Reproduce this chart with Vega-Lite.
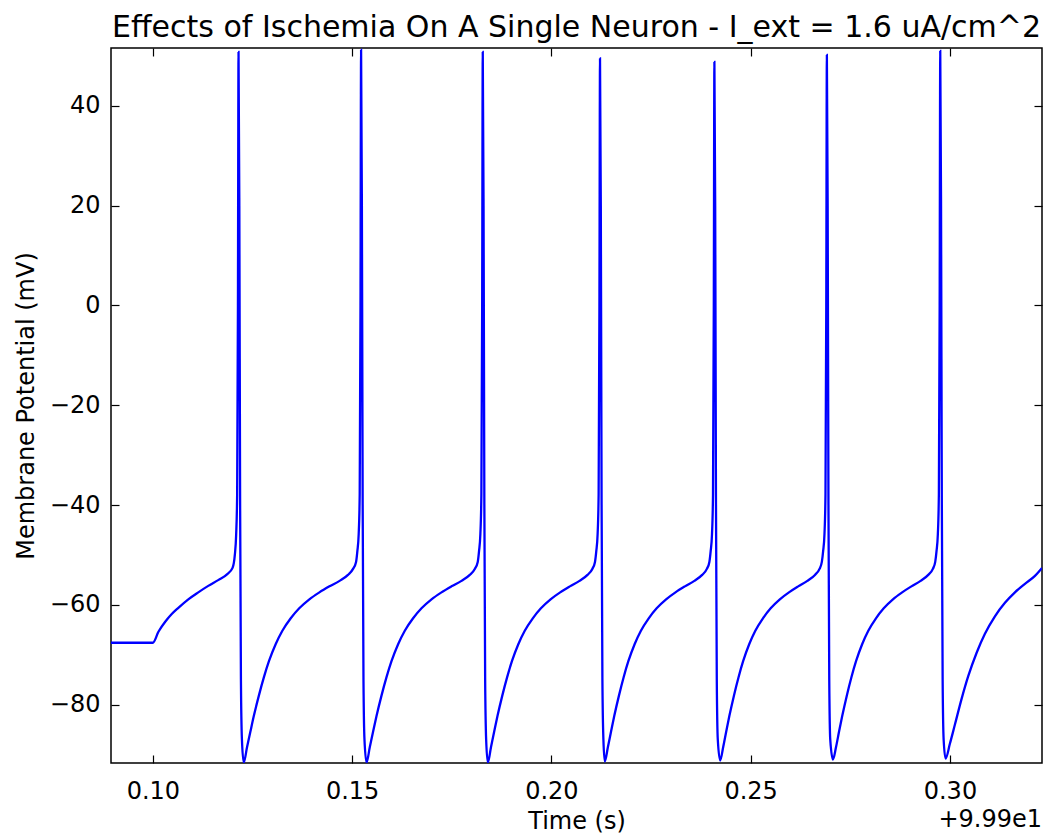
{
  "$schema": "https://vega.github.io/schema/vega-lite/v6.json",
  "width": 931,
  "height": 715,
  "autosize": {"type": "none"},
  "padding": {"left": 111, "top": 48, "right": 7, "bottom": 70},
  "background": "white",
  "title": {"text": "Effects of Ischemia On A Single Neuron - I_ext = 1.6 uA/cm^2", "font": "DejaVu Sans", "fontSize": 30, "fontWeight": "normal", "color": "#000", "anchor": "middle", "frame": "group", "baseline": "alphabetic", "offset": 11, "dy": 31},
  "config": {
    "view": {"stroke": "#000", "strokeWidth": 1.5},
    "axis": {"domain": false, "grid": false, "tickColor": "#000", "tickSize": -8, "tickWidth": 1.2, "labelFont": "DejaVu Sans", "labelFontSize": 24, "labelColor": "#000", "titleFont": "DejaVu Sans", "titleFontSize": 24, "titleFontWeight": "normal", "titleColor": "#000"}
  },
  "resolve": {"axis": {"x": "independent", "y": "independent"}},
  "layer": [
    {
      "data": {"values": [
        {"t":0.0895,"v":-67.6},{"t":0.1000,"v":-67.6},{"t":0.1014,"v":-65.4},{"t":0.1031,"v":-63.4},{"t":0.1048,"v":-61.8},{"t":0.1064,"v":-60.6},{"t":0.1089,"v":-58.9},{"t":0.1114,"v":-57.5},{"t":0.1139,"v":-56.2},{"t":0.1165,"v":-55.0},{"t":0.1186,"v":-53.9},{"t":0.1200,"v":-52.6},{"t":0.12057,"v":-50.0},{"t":0.12090,"v":-46.0},{"t":0.12115,"v":-38},{"t":0.12135,"v":0},{"t":0.12150,"v":50.8},
        {"t":0.12170,"v":20},{"t":0.12190,"v":-40},{"t":0.12210,"v":-75},{"t":0.12235,"v":-87},{"t":0.12280,"v":-91.6},
        {"t":0.12364,"v":-88.5},{"t":0.12448,"v":-85.4},{"t":0.12533,"v":-82.3},{"t":0.12660,"v":-78.2},{"t":0.12787,"v":-74.5},{"t":0.12913,"v":-71.3},{"t":0.13081,"v":-67.9},{"t":0.13250,"v":-65.2},{"t":0.13460,"v":-62.7},{"t":0.13673,"v":-60.7},{"t":0.13927,"v":-58.9},{"t":0.14179,"v":-57.5},{"t":0.14432,"v":-56.3},{"t":0.14686,"v":-55.2},{"t":0.14896,"v":-54.0},{"t":0.15023,"v":-52.8},
        {"t":0.15099,"v":-51.4},{"t":0.15132,"v":-49.2},{"t":0.15165,"v":-45.8},{"t":0.15190,"v":-38},{"t":0.15210,"v":0},{"t":0.15225,"v":51.2},
        {"t":0.15245,"v":20},{"t":0.15265,"v":-40},{"t":0.15285,"v":-75},{"t":0.15310,"v":-87},{"t":0.15361,"v":-91.6},
        {"t":0.15444,"v":-88.5},{"t":0.15527,"v":-85.4},{"t":0.15612,"v":-82.3},{"t":0.15737,"v":-78.2},{"t":0.15863,"v":-74.5},{"t":0.15988,"v":-71.3},{"t":0.16154,"v":-67.9},{"t":0.16322,"v":-65.2},{"t":0.16530,"v":-62.7},{"t":0.16741,"v":-60.7},{"t":0.16992,"v":-58.9},{"t":0.17242,"v":-57.5},{"t":0.17493,"v":-56.3},{"t":0.17744,"v":-55.2},{"t":0.17952,"v":-54.0},{"t":0.18078,"v":-52.8},
        {"t":0.18152,"v":-51.4},{"t":0.18185,"v":-49.2},{"t":0.18218,"v":-45.8},{"t":0.18243,"v":-38},{"t":0.18263,"v":0},{"t":0.18278,"v":50.8},
        {"t":0.18298,"v":20},{"t":0.18318,"v":-40},{"t":0.18338,"v":-75},{"t":0.18363,"v":-87},{"t":0.18405,"v":-91.6},
        {"t":0.18485,"v":-88.5},{"t":0.18565,"v":-85.4},{"t":0.18647,"v":-82.3},{"t":0.18768,"v":-78.2},{"t":0.18890,"v":-74.5},{"t":0.19010,"v":-71.3},{"t":0.19170,"v":-67.9},{"t":0.19332,"v":-65.2},{"t":0.19533,"v":-62.7},{"t":0.19737,"v":-60.7},{"t":0.19979,"v":-58.9},{"t":0.20220,"v":-57.5},{"t":0.20463,"v":-56.3},{"t":0.20705,"v":-55.2},{"t":0.20906,"v":-54.0},{"t":0.21027,"v":-52.8},
        {"t":0.21094,"v":-51.4},{"t":0.21127,"v":-49.2},{"t":0.21160,"v":-45.8},{"t":0.21185,"v":-38},{"t":0.21205,"v":0},{"t":0.21220,"v":49.5},
        {"t":0.21240,"v":20},{"t":0.21260,"v":-40},{"t":0.21280,"v":-75},{"t":0.21305,"v":-87},{"t":0.21340,"v":-91.4},
        {"t":0.21418,"v":-88.5},{"t":0.21497,"v":-85.4},{"t":0.21577,"v":-82.3},{"t":0.21695,"v":-78.2},{"t":0.21813,"v":-74.5},{"t":0.21931,"v":-71.3},{"t":0.22088,"v":-67.9},{"t":0.22246,"v":-65.2},{"t":0.22442,"v":-62.7},{"t":0.22641,"v":-60.7},{"t":0.22878,"v":-58.9},{"t":0.23113,"v":-57.5},{"t":0.23350,"v":-56.3},{"t":0.23587,"v":-55.2},{"t":0.23783,"v":-54.0},{"t":0.23901,"v":-52.8},
        {"t":0.23964,"v":-51.4},{"t":0.23997,"v":-49.2},{"t":0.24030,"v":-45.8},{"t":0.24055,"v":-38},{"t":0.24075,"v":0},{"t":0.24090,"v":48.8},
        {"t":0.24110,"v":20},{"t":0.24130,"v":-40},{"t":0.24150,"v":-75},{"t":0.24175,"v":-87},{"t":0.24235,"v":-91.2},
        {"t":0.24311,"v":-88.5},{"t":0.24387,"v":-85.4},{"t":0.24465,"v":-82.3},{"t":0.24580,"v":-78.2},{"t":0.24696,"v":-74.5},{"t":0.24811,"v":-71.3},{"t":0.24963,"v":-67.9},{"t":0.25117,"v":-65.2},{"t":0.25308,"v":-62.7},{"t":0.25502,"v":-60.7},{"t":0.25732,"v":-58.9},{"t":0.25961,"v":-57.5},{"t":0.26192,"v":-56.3},{"t":0.26422,"v":-55.2},{"t":0.26613,"v":-54.0},{"t":0.26728,"v":-52.8},
        {"t":0.26786,"v":-51.4},{"t":0.26819,"v":-49.2},{"t":0.26852,"v":-45.8},{"t":0.26877,"v":-38},{"t":0.26897,"v":0},{"t":0.26912,"v":50.2},
        {"t":0.26932,"v":20},{"t":0.26952,"v":-40},{"t":0.26972,"v":-75},{"t":0.26997,"v":-87},{"t":0.27065,"v":-91.0},
        {"t":0.27142,"v":-88.5},{"t":0.27218,"v":-85.4},{"t":0.27297,"v":-82.3},{"t":0.27412,"v":-78.2},{"t":0.27528,"v":-74.5},{"t":0.27644,"v":-71.3},{"t":0.27797,"v":-67.9},{"t":0.27952,"v":-65.2},{"t":0.28144,"v":-62.7},{"t":0.28339,"v":-60.7},{"t":0.28570,"v":-58.9},{"t":0.28801,"v":-57.5},{"t":0.29033,"v":-56.3},{"t":0.29264,"v":-55.2},{"t":0.29456,"v":-54.0},{"t":0.29572,"v":-52.8},
        {"t":0.29631,"v":-51.4},{"t":0.29664,"v":-49.2},{"t":0.29697,"v":-45.8},{"t":0.29722,"v":-38},{"t":0.29742,"v":0},{"t":0.29757,"v":51.0},
        {"t":0.29777,"v":20},{"t":0.29797,"v":-40},{"t":0.29817,"v":-75},{"t":0.29842,"v":-87},{"t":0.29890,"v":-90.8},
        {"t":0.30000,"v":-87.8},{"t":0.30125,"v":-84.0},{"t":0.30294,"v":-78.8},{"t":0.30459,"v":-74.3},{"t":0.30670,"v":-69.6},{"t":0.30878,"v":-65.8},{"t":0.31129,"v":-62.3},{"t":0.31380,"v":-59.6},{"t":0.31631,"v":-57.5},{"t":0.31882,"v":-55.8},{"t":0.32133,"v":-54.2},{"t":0.32310,"v":-52.6}
      ]},
      "mark": {"type": "line", "color": "#0000ff", "strokeWidth": 2.3, "interpolate": "monotone", "clip": true},
      "encoding": {
        "x": {"field": "t", "type": "quantitative", "scale": {"domain": [0.0895, 0.3231], "nice": false, "zero": false},
              "axis": {"orient": "bottom", "values": [0.1, 0.15, 0.2, 0.25, 0.3], "format": ".2f", "labelPadding": 24, "title": "Time (s)", "titleX": 465.5, "titleY": 65, "titleBaseline": "alphabetic"}},
        "y": {"field": "v", "type": "quantitative", "scale": {"domain": [-91.7, 51.6], "nice": false, "zero": false},
              "axis": {"orient": "left", "values": [-80, -60, -40, -20, 0, 20, 40], "labelPadding": 19, "title": "Membrane Potential (mV)", "titleX": -78, "titleY": 357.5, "titleAngle": -90, "titleBaseline": "alphabetic"}}
      }
    },
    {
      "data": {"values": [{"label": "+9.99e1"}]},
      "mark": {"type": "text", "align": "right", "baseline": "alphabetic", "dy": 64, "font": "DejaVu Sans", "fontSize": 24, "color": "#000"},
      "encoding": {
        "text": {"field": "label"},
        "x": {"datum": 0.3231, "type": "quantitative", "scale": {"domain": [0.0895, 0.3231], "nice": false, "zero": false},
              "axis": {"orient": "top", "values": [0.1, 0.15, 0.2, 0.25, 0.3], "labels": false, "title": null}},
        "y": {"datum": -91.7, "type": "quantitative", "scale": {"domain": [-91.7, 51.6], "nice": false, "zero": false},
              "axis": {"orient": "right", "values": [-80, -60, -40, -20, 0, 20, 40], "labels": false, "title": null}}
      }
    }
  ]
}
